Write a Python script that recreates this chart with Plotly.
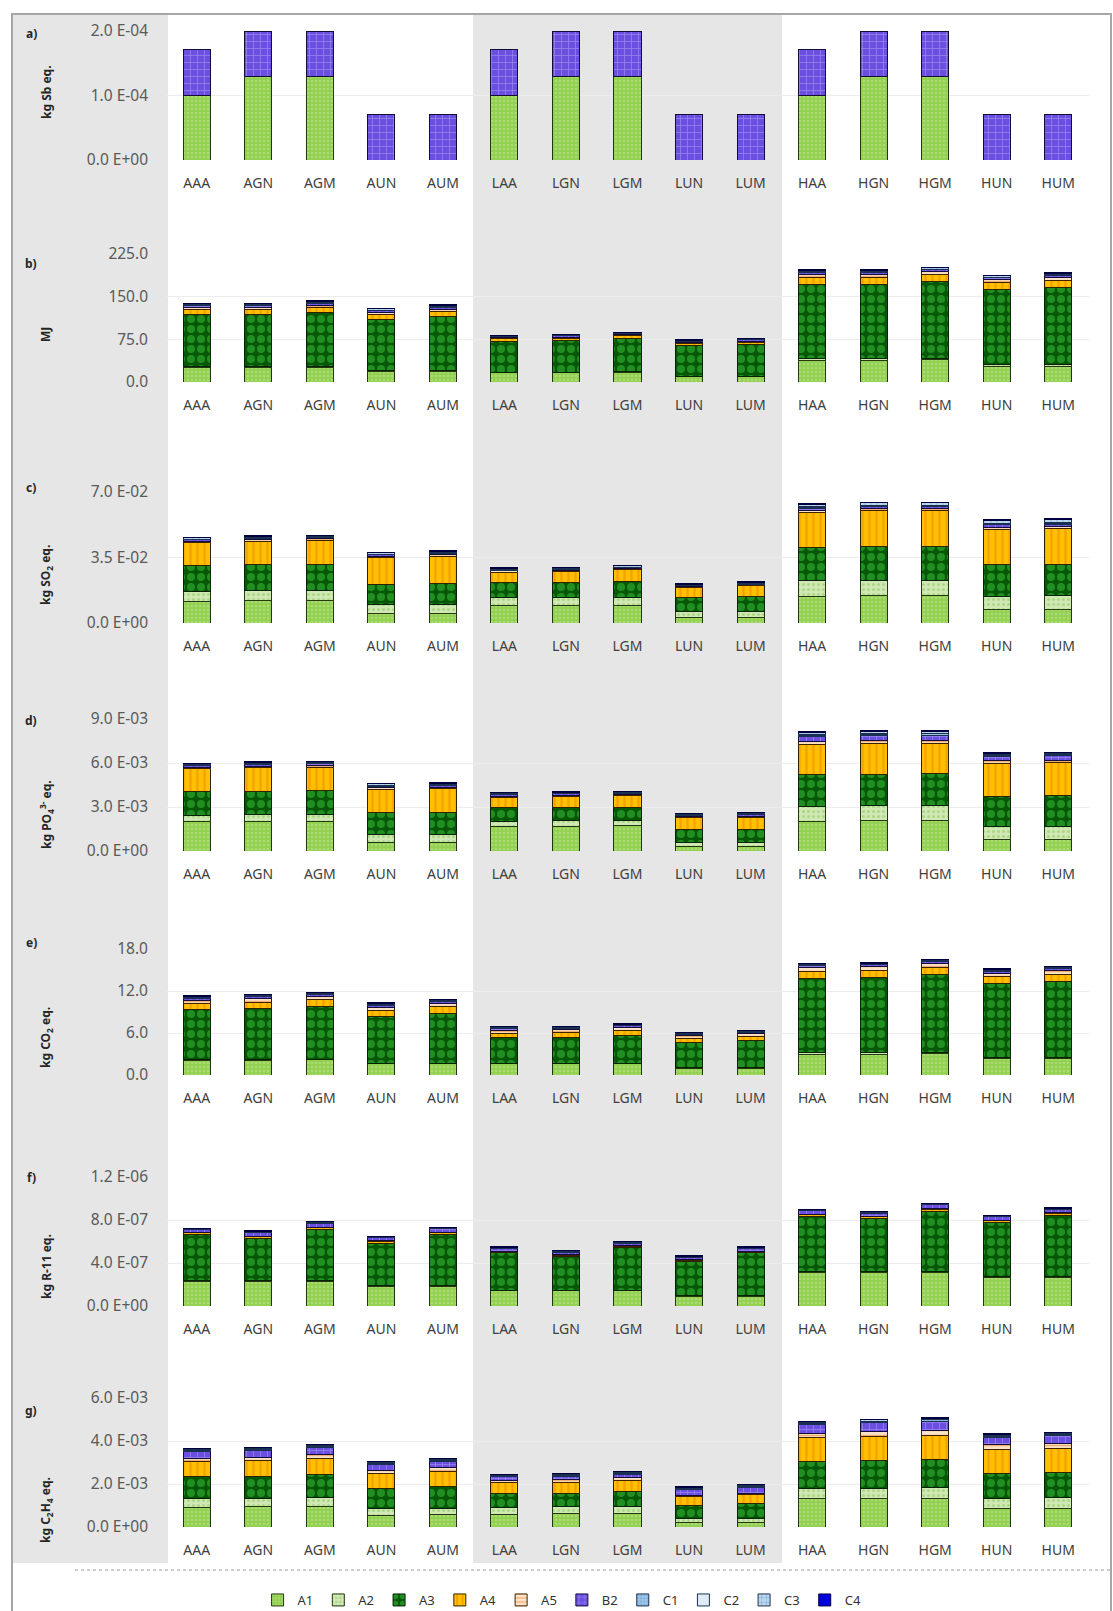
import plotly.graph_objects as go

W, H = 1113, 1611

CATS = ["AAA", "AGN", "AGM", "AUN", "AUM", "LAA", "LGN", "LGM", "LUN", "LUM",
        "HAA", "HGN", "HGM", "HUN", "HUM"]
SERIES = ["A1", "A2", "A3", "A4", "A5", "B2", "C1", "C2", "C3", "C4"]

# ---------------- a) kg Sb eq. ----------------
a_A1 = [1.0e-4, 1.3e-4, 1.3e-4, None, None, 1.0e-4, 1.3e-4, 1.3e-4, None, None,
        1.0e-4, 1.3e-4, 1.3e-4, None, None]
a_B2 = [7.2e-5, 7.0e-5, 7.0e-5, 7.0e-5, 7.0e-5, 7.1e-5, 7.0e-5, 7.0e-5, 7.0e-5, 7.0e-5,
        7.1e-5, 7.0e-5, 7.0e-5, 7.0e-5, 7.0e-5]

# ---------------- b) MJ ----------------
b_A1 = [25, 25, 26, 18, 18, 16, 16, 17, 9, 9, 38, 38, 39, 27, 27]
b_A2 = [2, 2, 2, 2, 2, 1, 1, 1, 1, 1, 3, 3, 3, 3, 3]
b_A3 = [92, 92, 95, 89, 95, 55, 56, 59, 54, 56, 131, 131, 135, 132, 136]
b_A4 = [8, 8, 8, 9, 9, 4, 4, 4, 4, 4, 12, 12, 12, 13, 13]
b_A5 = [4, 4, 4, 4, 4, 2, 2, 2, 2, 2, 5, 5, 5, 5, 5]
b_B2 = [3, 3, 3, 3, 3, 2, 2, 2, 2, 2, 3, 3, 3, 3, 3]
b_C1 = [1, 1, 1, 1, 1, 0.5, 0.5, 0.5, 0.5, 0.5, 1, 1, 1, 1, 1]
b_C2 = [0.5, 0.5, 0.5, 0.5, 0.5, 0.3, 0.3, 0.3, 0.3, 0.3, 0.5, 0.5, 0.5, 0.5, 0.5]
b_C3 = [2, 2, 2, 2, 2, 1, 1, 1, 1, 1, 2.5, 2.5, 2.5, 2.5, 2.5]
b_C4 = [1, 1, 1, 1, 1, 0.5, 0.5, 0.5, 0.5, 0.5, 1, 1, 1, 1, 1]

# ---------------- c) kg SO2 eq. ----------------
c_A1 = [0.0115, 0.0118, 0.0119, 0.0050, 0.0050, 0.0092, 0.0093, 0.0094, 0.0030, 0.0031,
        0.0144, 0.0145, 0.0145, 0.0072, 0.0072]
c_A2 = [0.0055, 0.0056, 0.0057, 0.0049, 0.0050, 0.0042, 0.0043, 0.0044, 0.0032, 0.0033,
        0.0081, 0.0082, 0.0082, 0.0072, 0.0073]
c_A3 = [0.0135, 0.0137, 0.0139, 0.0108, 0.0113, 0.0080, 0.0082, 0.0085, 0.0072, 0.0077,
        0.0180, 0.0183, 0.0183, 0.0168, 0.0170]
c_A4 = [0.0125, 0.0127, 0.0127, 0.0143, 0.0145, 0.0058, 0.0059, 0.0062, 0.0054, 0.0057,
        0.0185, 0.0190, 0.0190, 0.0188, 0.0190]
c_A5 = [0.0008, 0.0008, 0.0008, 0.0008, 0.0008, 0.0006, 0.0006, 0.0006, 0.0006, 0.0006,
        0.0010, 0.0010, 0.0010, 0.0010, 0.0010]
c_B2 = [0.0006, 0.0006, 0.0006, 0.0006, 0.0006, 0.0004, 0.0004, 0.0004, 0.0004, 0.0004,
        0.0012, 0.0012, 0.0012, 0.0014, 0.0014]
c_C1 = [0.0002, 0.0002, 0.0002, 0.0002, 0.0002, 0.0002, 0.0002, 0.0002, 0.0002, 0.0002,
        0.0004, 0.0004, 0.0004, 0.0004, 0.0004]
c_C2 = [0.0002, 0.0002, 0.0002, 0.0002, 0.0002, 0.0002, 0.0002, 0.0002, 0.0002, 0.0002,
        0.0004, 0.0004, 0.0004, 0.0004, 0.0004]
c_C3 = [0.0008, 0.0008, 0.0008, 0.0008, 0.0008, 0.0006, 0.0006, 0.0006, 0.0006, 0.0006,
        0.0012, 0.0012, 0.0012, 0.0014, 0.0014]
c_C4 = [0.0002, 0.0002, 0.0002, 0.0002, 0.0002, 0.0002, 0.0002, 0.0002, 0.0002, 0.0002,
        0.0004, 0.0004, 0.0004, 0.0006, 0.0006]

# ---------------- d) kg PO4 3- eq. ----------------
d_A1 = [2.0e-3, 2.0e-3, 2.0e-3, 0.57e-3, 0.58e-3, 1.70e-3, 1.70e-3, 1.72e-3, 0.30e-3, 0.30e-3,
        2.04e-3, 2.05e-3, 2.05e-3, 0.79e-3, 0.79e-3]
d_A2 = [0.45e-3, 0.46e-3, 0.46e-3, 0.57e-3, 0.57e-3, 0.34e-3, 0.35e-3, 0.35e-3, 0.27e-3, 0.28e-3,
        1.02e-3, 1.03e-3, 1.03e-3, 0.90e-3, 0.91e-3]
d_A3 = [1.60e-3, 1.62e-3, 1.64e-3, 1.47e-3, 1.50e-3, 0.90e-3, 0.92e-3, 0.93e-3, 0.90e-3, 0.92e-3,
        2.15e-3, 2.17e-3, 2.18e-3, 2.04e-3, 2.06e-3]
d_A4 = [1.55e-3, 1.60e-3, 1.62e-3, 1.59e-3, 1.60e-3, 0.73e-3, 0.75e-3, 0.76e-3, 0.79e-3, 0.80e-3,
        2.04e-3, 2.06e-3, 2.07e-3, 2.27e-3, 2.29e-3]
d_A5 = [0.10e-3, 0.10e-3, 0.10e-3, 0.10e-3, 0.10e-3, 0.08e-3, 0.08e-3, 0.08e-3, 0.08e-3, 0.08e-3,
        0.20e-3, 0.20e-3, 0.20e-3, 0.15e-3, 0.15e-3]
d_B2 = [0.12e-3, 0.12e-3, 0.12e-3, 0.12e-3, 0.12e-3, 0.10e-3, 0.10e-3, 0.10e-3, 0.10e-3, 0.10e-3,
        0.35e-3, 0.35e-3, 0.35e-3, 0.30e-3, 0.30e-3]
d_C1 = [0.05e-3, 0.05e-3, 0.05e-3, 0.05e-3, 0.05e-3, 0.04e-3, 0.04e-3, 0.04e-3, 0.04e-3, 0.04e-3,
        0.10e-3, 0.10e-3, 0.10e-3, 0.08e-3, 0.08e-3]
d_C2 = [0.03e-3, 0.03e-3, 0.03e-3, 0.03e-3, 0.03e-3, 0.02e-3, 0.02e-3, 0.02e-3, 0.02e-3, 0.02e-3,
        0.05e-3, 0.05e-3, 0.05e-3, 0.04e-3, 0.04e-3]
d_C3 = [0.07e-3, 0.07e-3, 0.07e-3, 0.07e-3, 0.07e-3, 0.06e-3, 0.06e-3, 0.06e-3, 0.06e-3, 0.06e-3,
        0.15e-3, 0.15e-3, 0.15e-3, 0.10e-3, 0.10e-3]
d_C4 = [0.03e-3, 0.03e-3, 0.03e-3, 0.03e-3, 0.03e-3, 0.03e-3, 0.03e-3, 0.03e-3, 0.03e-3, 0.03e-3,
        0.05e-3, 0.05e-3, 0.05e-3, 0.03e-3, 0.03e-3]

# ---------------- e) kg CO2 eq. ----------------
e_A1 = [2.1, 2.1, 2.15, 1.6, 1.6, 1.6, 1.6, 1.65, 1.0, 1.0, 3.0, 3.0, 3.05, 2.3, 2.3]
e_A2 = [0.1, 0.1, 0.1, 0.1, 0.1, 0.05, 0.05, 0.05, 0.05, 0.05, 0.15, 0.15, 0.15, 0.15, 0.15]
e_A3 = [7.1, 7.3, 7.55, 6.65, 7.15, 3.65, 3.7, 3.95, 3.6, 3.9, 10.7, 10.8, 11.1, 10.6, 10.9]
e_A4 = [0.9, 0.9, 0.95, 0.9, 0.9, 0.7, 0.7, 0.72, 0.6, 0.6, 1.0, 1.0, 1.05, 1.0, 1.0]
e_A5 = [0.5, 0.5, 0.5, 0.45, 0.45, 0.4, 0.4, 0.4, 0.35, 0.35, 0.5, 0.5, 0.55, 0.5, 0.55]
e_B2 = [0.3, 0.3, 0.3, 0.3, 0.3, 0.25, 0.25, 0.25, 0.2, 0.2, 0.3, 0.3, 0.3, 0.3, 0.3]
e_C1 = [0.05, 0.05, 0.05, 0.05, 0.05, 0.05, 0.05, 0.05, 0.05, 0.05, 0.05, 0.05, 0.05, 0.05, 0.05]
e_C2 = [0.05, 0.05, 0.05, 0.05, 0.05, 0.05, 0.05, 0.05, 0.05, 0.05, 0.05, 0.05, 0.05, 0.05, 0.05]
e_C3 = [0.15, 0.15, 0.15, 0.15, 0.15, 0.15, 0.15, 0.15, 0.15, 0.15, 0.15, 0.15, 0.15, 0.15, 0.15]
e_C4 = [0.05, 0.05, 0.05, 0.05, 0.05, 0.05, 0.05, 0.05, 0.05, 0.05, 0.05, 0.05, 0.05, 0.05, 0.05]

# ---------------- f) kg R-11 eq. ----------------
f_A1 = [2.3e-7, 2.3e-7, 2.3e-7, 1.85e-7, 1.85e-7, 1.4e-7, 1.4e-7, 1.4e-7, 0.9e-7, 0.9e-7,
        3.1e-7, 3.1e-7, 3.1e-7, 2.65e-7, 2.65e-7]
f_A2 = [0.05e-7, 0.05e-7, 0.05e-7, 0.05e-7, 0.05e-7, 0.05e-7, 0.05e-7, 0.05e-7, 0.05e-7, 0.05e-7,
        0.1e-7, 0.1e-7, 0.1e-7, 0.1e-7, 0.1e-7]
f_A3 = [4.3e-7, 3.95e-7, 4.75e-7, 3.95e-7, 4.75e-7, 3.5e-7, 3.15e-7, 4.0e-7, 3.2e-7, 4.0e-7,
        5.1e-7, 4.9e-7, 5.6e-7, 5.0e-7, 5.7e-7]
f_A4 = [0.15e-7, 0.15e-7, 0.18e-7, 0.15e-7, 0.18e-7, 0.12e-7, 0.12e-7, 0.12e-7, 0.1e-7, 0.12e-7,
        0.2e-7, 0.2e-7, 0.2e-7, 0.2e-7, 0.2e-7]
f_A5 = [0.05e-7, 0.05e-7, 0.05e-7, 0.05e-7, 0.05e-7, 0.04e-7, 0.04e-7, 0.04e-7, 0.04e-7, 0.04e-7,
        0.05e-7, 0.05e-7, 0.05e-7, 0.05e-7, 0.05e-7]
f_B2 = [0.25e-7, 0.3e-7, 0.35e-7, 0.3e-7, 0.3e-7, 0.25e-7, 0.25e-7, 0.25e-7, 0.25e-7, 0.25e-7,
        0.3e-7, 0.3e-7, 0.35e-7, 0.3e-7, 0.3e-7]
f_C1 = [0.03e-7, 0.03e-7, 0.03e-7, 0.03e-7, 0.03e-7, 0.03e-7, 0.03e-7, 0.03e-7, 0.03e-7, 0.03e-7,
        0.03e-7, 0.03e-7, 0.03e-7, 0.03e-7, 0.03e-7]
f_C2 = [0.02e-7, 0.02e-7, 0.02e-7, 0.02e-7, 0.02e-7, 0.02e-7, 0.02e-7, 0.02e-7, 0.02e-7, 0.02e-7,
        0.02e-7, 0.02e-7, 0.02e-7, 0.02e-7, 0.02e-7]
f_C3 = [0.05e-7, 0.1e-7, 0.1e-7, 0.08e-7, 0.08e-7, 0.06e-7, 0.06e-7, 0.06e-7, 0.06e-7, 0.06e-7,
        0.05e-7, 0.05e-7, 0.05e-7, 0.05e-7, 0.05e-7]
f_C4 = [0.02e-7, 0.03e-7, 0.03e-7, 0.02e-7, 0.02e-7, 0.02e-7, 0.02e-7, 0.02e-7, 0.02e-7, 0.02e-7,
        0.02e-7, 0.02e-7, 0.02e-7, 0.02e-7, 0.02e-7]

# ---------------- g) kg C2H4 eq. ----------------
g_A1 = [0.93e-3, 0.94e-3, 0.95e-3, 0.55e-3, 0.56e-3, 0.60e-3, 0.61e-3, 0.63e-3, 0.20e-3, 0.21e-3,
        1.32e-3, 1.33e-3, 1.34e-3, 0.86e-3, 0.87e-3]
g_A2 = [0.39e-3, 0.40e-3, 0.41e-3, 0.31e-3, 0.31e-3, 0.33e-3, 0.33e-3, 0.34e-3, 0.19e-3, 0.19e-3,
        0.47e-3, 0.48e-3, 0.48e-3, 0.47e-3, 0.48e-3]
g_A3 = [1.01e-3, 1.02e-3, 1.08e-3, 0.93e-3, 1.00e-3, 0.62e-3, 0.63e-3, 0.67e-3, 0.62e-3, 0.68e-3,
        1.25e-3, 1.27e-3, 1.31e-3, 1.17e-3, 1.20e-3]
g_A4 = [0.70e-3, 0.72e-3, 0.76e-3, 0.70e-3, 0.72e-3, 0.50e-3, 0.51e-3, 0.53e-3, 0.39e-3, 0.41e-3,
        1.10e-3, 1.12e-3, 1.14e-3, 1.10e-3, 1.12e-3]
g_A5 = [0.16e-3, 0.16e-3, 0.17e-3, 0.16e-3, 0.17e-3, 0.12e-3, 0.12e-3, 0.12e-3, 0.08e-3, 0.09e-3,
        0.22e-3, 0.22e-3, 0.22e-3, 0.22e-3, 0.22e-3]
g_B2 = [0.32e-3, 0.32e-3, 0.33e-3, 0.27e-3, 0.28e-3, 0.16e-3, 0.16e-3, 0.17e-3, 0.26e-3, 0.27e-3,
        0.42e-3, 0.43e-3, 0.44e-3, 0.36e-3, 0.36e-3]
g_C1 = [0.05e-3, 0.05e-3, 0.05e-3, 0.05e-3, 0.05e-3, 0.05e-3, 0.05e-3, 0.05e-3, 0.05e-3, 0.05e-3,
        0.05e-3, 0.05e-3, 0.05e-3, 0.05e-3, 0.05e-3]
g_C2 = [0.03e-3, 0.03e-3, 0.03e-3, 0.03e-3, 0.03e-3, 0.03e-3, 0.03e-3, 0.03e-3, 0.03e-3, 0.03e-3,
        0.03e-3, 0.03e-3, 0.03e-3, 0.03e-3, 0.03e-3]
g_C3 = [0.05e-3, 0.05e-3, 0.05e-3, 0.05e-3, 0.05e-3, 0.04e-3, 0.04e-3, 0.04e-3, 0.04e-3, 0.04e-3,
        0.05e-3, 0.05e-3, 0.05e-3, 0.05e-3, 0.05e-3]
g_C4 = [0.02e-3, 0.02e-3, 0.02e-3, 0.02e-3, 0.02e-3, 0.01e-3, 0.01e-3, 0.01e-3, 0.01e-3, 0.01e-3,
        0.02e-3, 0.02e-3, 0.02e-3, 0.02e-3, 0.02e-3]

# Axis ticks / labels
a_ticks = [0, 1.0e-4, 2.0e-4];            a_text = ["0.0 E+00", "1.0 E-04", "2.0 E-04"]
b_ticks = [0, 75, 150, 225];             b_text = ["0.0", "75.0", "150.0", "225.0"]
c_ticks = [0, 0.035, 0.07];               c_text = ["0.0 E+00", "3.5 E-02", "7.0 E-02"]
d_ticks = [0, 3e-3, 6e-3, 9e-3];          d_text = ["0.0 E+00", "3.0 E-03", "6.0 E-03", "9.0 E-03"]
e_ticks = [0, 6, 12, 18];                 e_text = ["0.0", "6.0", "12.0", "18.0"]
f_ticks = [0, 4e-7, 8e-7, 1.2e-6];        f_text = ["0.0 E+00", "4.0 E-07", "8.0 E-07", "1.2 E-06"]
g_ticks = [0, 2e-3, 4e-3, 6e-3];          g_text = ["0.0 E+00", "2.0 E-03", "4.0 E-03", "6.0 E-03"]

TITLES = ["kg Sb eq.", "MJ", "kg SO<sub>2</sub> eq.", "kg PO<sub>4</sub><sup>3-</sup> eq.",
          "kg CO<sub>2</sub> eq.", "kg R-11 eq.", "kg C<sub>2</sub>H<sub>4</sub> eq."]
LABELS = ["a)", "b)", "c)", "d)", "e)", "f)", "g)"]

# ---------------- styling ----------------
STYLE = {
    "A1": dict(color="#92D050", shape=".", fg="#c2e69a", size=4, sol=0.35, line="#24380f"),
    "A2": dict(color="#cfe8b4", shape=".", fg="#8cc65a", size=5, sol=0.3, line="#24380f"),
    "A3": dict(color="#065806", shape=".", fg="#3cc43c", size=10, sol=0.5, line="#082208"),
    "A4": dict(color="#FFC000", shape="|", fg="#ee8400", size=7, sol=0.35, line="#2e2200"),
    "A5": dict(color="#fbe3c8", shape="-", fg="#e07a20", size=5, sol=0.3, line="#3e2200"),
    "B2": dict(color="#6a4fe0", shape="+", fg="#c8bcff", size=7, sol=0.2, line="#140c38"),
    "C1": dict(color="#9dc3e6", shape=".", fg="#5b9bd5", size=4, sol=0.3, line="#1a3050"),
    "C2": dict(color="#deebf7", shape="", fg="#deebf7", size=4, sol=0.3, line="#1a3050"),
    "C3": dict(color="#bdd7ee", shape="+", fg="#2e75b6", size=6, sol=0.2, line="#1a3050"),
    "C4": dict(color="#0000dd", shape="", fg="#0000dd", size=4, sol=0.3, line="#000040"),
}

PANELS = [
    (dict(A1=a_A1, B2=a_B2), 2.0e-4, a_ticks, a_text),
    (dict(A1=b_A1, A2=b_A2, A3=b_A3, A4=b_A4, A5=b_A5, B2=b_B2, C1=b_C1, C2=b_C2, C3=b_C3, C4=b_C4),
     225, b_ticks, b_text),
    (dict(A1=c_A1, A2=c_A2, A3=c_A3, A4=c_A4, A5=c_A5, B2=c_B2, C1=c_C1, C2=c_C2, C3=c_C3, C4=c_C4),
     0.07, c_ticks, c_text),
    (dict(A1=d_A1, A2=d_A2, A3=d_A3, A4=d_A4, A5=d_A5, B2=d_B2, C1=d_C1, C2=d_C2, C3=d_C3, C4=d_C4),
     9e-3, d_ticks, d_text),
    (dict(A1=e_A1, A2=e_A2, A3=e_A3, A4=e_A4, A5=e_A5, B2=e_B2, C1=e_C1, C2=e_C2, C3=e_C3, C4=e_C4),
     18, e_ticks, e_text),
    (dict(A1=f_A1, A2=f_A2, A3=f_A3, A4=f_A4, A5=f_A5, B2=f_B2, C1=f_C1, C2=f_C2, C3=f_C3, C4=f_C4),
     1.2e-6, f_ticks, f_text),
    (dict(A1=g_A1, A2=g_A2, A3=g_A3, A4=g_A4, A5=g_A5, B2=g_B2, C1=g_C1, C2=g_C2, C3=g_C3, C4=g_C4),
     6e-3, g_ticks, g_text),
]

# pixel layout (full-size coordinates)
ZERO_PX = [160, 382, 623, 851, 1075, 1306, 1527]
TOP_PX = [31, 254, 492, 719, 949, 1177, 1398]
TITLE_Y = [92, 335, 575, 815, 1038, 1267, 1510]
LABEL_Y = [33, 263, 487, 720, 942, 1177, 1410]
PLOT_L, PLOT_R = 166, 1089


def px(x):
    return x / W


def py(y):
    return 1 - y / H


fig = go.Figure()
for i, (data, ymax, tv, tt) in enumerate(PANELS):
    n = i + 1
    for s in SERIES:
        st = STYLE[s]
        vals = data.get(s, [None] * len(CATS))
        fig.add_trace(go.Bar(
            x=CATS, y=vals, name=s, legendgroup=s, showlegend=(i == 0),
            xaxis="x" if n == 1 else f"x{n}", yaxis="y" if n == 1 else f"y{n}",
            marker=dict(color=st["color"], line=dict(color=st["line"], width=1),
                        pattern=dict(shape=st["shape"], fgcolor=st["fg"], size=st["size"],
                                     solidity=st["sol"], fillmode="overlay")),
            width=0.44,
        ))

layout = dict(
    width=W, height=H, barmode="stack",
    margin=dict(l=0, r=0, t=0, b=0, autoexpand=False),
    paper_bgcolor="white", plot_bgcolor="rgba(0,0,0,0)",
    font=dict(family="Noto Sans", size=12, color="#404040"),
    legend=dict(orientation="h", x=0.505, xanchor="center", y=py(1600), yanchor="middle",
                font=dict(size=13, color="#333333"), itemwidth=30, traceorder="normal",
                bgcolor="rgba(0,0,0,0)"),
    showlegend=True,
)

shapes = []
annotations = []
for i, (data, ymax, tv, tt) in enumerate(PANELS):
    n = i + 1
    xk = "xaxis" if n == 1 else f"xaxis{n}"
    yk = "yaxis" if n == 1 else f"yaxis{n}"
    layout[xk] = dict(domain=[px(PLOT_L), px(PLOT_R)], anchor="y" if n == 1 else f"y{n}",
                      type="category", showgrid=False, showline=False, zeroline=False,
                      ticks="", tickfont=dict(size=14, color="#404040"),
                      ticklabelstandoff=13, automargin=False)
    layout[yk] = dict(domain=[py(ZERO_PX[i]), py(TOP_PX[i])], anchor="x" if n == 1 else f"x{n}",
                      range=[0, ymax], tickvals=tv, ticktext=tt, showgrid=True,
                      gridcolor="#ececec", gridwidth=1, zeroline=False, showline=False,
                      ticks="", tickfont=dict(size=15.5, color="#595959"),
                      ticklabelstandoff=17, automargin=False)
    annotations.append(dict(text="<b>" + TITLES[i] + "</b>", x=px(46), y=py(TITLE_Y[i]),
                            xref="paper", yref="paper", textangle=-90, showarrow=False,
                            font=dict(size=12, color="#262626"),
                            xanchor="center", yanchor="middle"))
    annotations.append(dict(text="<b>" + LABELS[i] + "</b>", x=px(31), y=py(LABEL_Y[i]),
                            xref="paper", yref="paper", showarrow=False,
                            font=dict(size=12, color="#262626"),
                            xanchor="center", yanchor="middle"))

# grey bands
for x0, x1 in [(12, 168), (473, 782)]:
    shapes.append(dict(type="rect", xref="paper", yref="paper", x0=px(x0), x1=px(x1),
                       y0=py(1563), y1=py(14), fillcolor="#e6e6e6", line=dict(width=0),
                       layer="below"))
# dotted separator
shapes.append(dict(type="line", xref="paper", yref="paper", x0=px(75), x1=px(1111),
                   y0=py(1570), y1=py(1570), line=dict(color="#9a9a9a", width=1, dash="dot"),
                   layer="above"))
# outer frame
shapes.append(dict(type="rect", xref="paper", yref="paper", x0=px(12), x1=px(1111),
                   y0=py(1625), y1=py(14), line=dict(color="#a6a6a6", width=2),
                   fillcolor="rgba(0,0,0,0)", layer="above"))

layout["shapes"] = shapes
layout["annotations"] = annotations
fig.update_layout(**layout)

fig.write_html("out.html", config={"displayModeBar": False},
               post_script="document.body.style.margin='0';document.body.style.padding='0';")
